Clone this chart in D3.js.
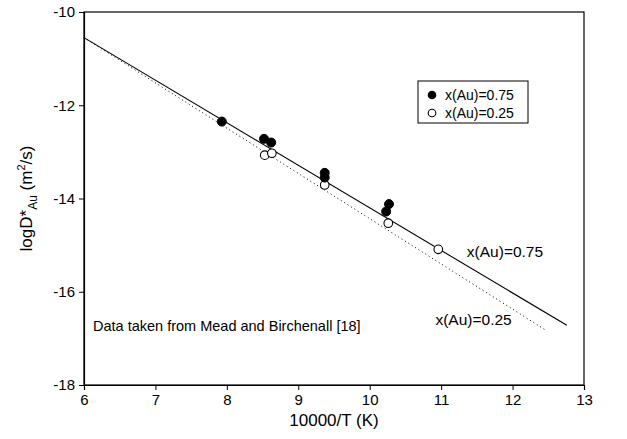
<!DOCTYPE html>
<html><head><meta charset="utf-8">
<script src="https://cdn.jsdelivr.net/npm/d3@7"></script>
<style>body{margin:0;background:#fff;} text{font-family:"Liberation Sans",Arial,sans-serif;fill:#000;}</style>
</head><body><svg id="c" width="627" height="439"></svg>
<script>
const xTicks = [6,7,8,9,10,11,12,13];
const yTicks = [-10,-12,-14,-16,-18];
const filledX = [7.93, 8.52, 8.62, 9.37, 9.37, 10.23, 10.27];
const filledY = [-12.35, -12.72, -12.80, -13.45, -13.55, -14.28, -14.12];
const openX = [8.53, 8.63, 9.37, 10.26, 10.96];
const openY = [-13.07, -13.03, -13.71, -14.53, -15.09];
const fitSolidX = [6, 12.76];
const fitSolidY = [-10.55, -16.72];
const fitDotX = [6, 12.46];
const fitDotY = [-10.55, -16.82];
const legendLabels = ["x(Au)=0.75", "x(Au)=0.25"];

const svg = d3.select("#c");
const L=84, R=584, T=12, B=385;
const x = d3.scaleLinear().domain([6,13]).range([L,R]);
const y = d3.scaleLinear().domain([-18,-10]).range([B,T]);

// frame
svg.append("rect").attr("x",L).attr("y",T).attr("width",R-L).attr("height",B-T)
  .attr("fill","none").attr("stroke","#000").attr("stroke-width",1.2);

const xa = svg.append("g").attr("transform",`translate(0,${B})`)
  .call(d3.axisBottom(x).tickValues(xTicks).tickSize(5).tickPadding(4).tickFormat(d3.format("d")));
const ya = svg.append("g").attr("transform",`translate(${L},0)`)
  .call(d3.axisLeft(y).tickValues(yTicks).tickSize(5).tickPadding(4).tickFormat(d=>"-"+Math.abs(d)));
[xa,ya].forEach(a=>{a.select(".domain").attr("stroke","#000").attr("stroke-width",1.2);
  a.selectAll("text").attr("font-size",15).attr("font-family","Liberation Sans, Arial, sans-serif").attr("fill","#000");
  a.selectAll("line").attr("stroke","#000");});

// fit lines
const line = d3.line().x(d=>x(d[0])).y(d=>y(d[1]));
svg.append("path").datum(fitSolidX.map((v,i)=>[v,fitSolidY[i]])).attr("d",line)
  .attr("stroke","#000").attr("stroke-width",1.1).attr("fill","none");
svg.append("path").datum(fitDotX.map((v,i)=>[v,fitDotY[i]])).attr("d",line)
  .attr("stroke","#000").attr("stroke-width",1).attr("stroke-dasharray","1,3").attr("fill","none");

// points
svg.append("g").selectAll("circle").data(openX.map((v,i)=>[v,openY[i]])).join("circle")
  .attr("cx",d=>x(d[0])).attr("cy",d=>y(d[1])).attr("r",4.3)
  .attr("fill","#fff").attr("stroke","#000").attr("stroke-width",1.1);
svg.append("g").selectAll("circle").data(filledX.map((v,i)=>[v,filledY[i]])).join("circle")
  .attr("cx",d=>x(d[0])).attr("cy",d=>y(d[1])).attr("r",4.5)
  .attr("fill","#000").attr("stroke","#000");

// annotations
svg.append("text").attr("x",x(11.36)).attr("y",y(-15.15)+5).attr("font-size",15.5).text(legendLabels[0]);
svg.append("text").attr("x",x(10.92)).attr("y",y(-16.6)+5).attr("font-size",15.5).text(legendLabels[1]);
svg.append("text").attr("x",93).attr("y",331).attr("font-size",14.5).text("Data taken from Mead and Birchenall [18]");

// legend
const lg = svg.append("g");
lg.append("rect").attr("x",418).attr("y",81).attr("width",110).attr("height",42)
  .attr("fill","#fff").attr("stroke","#000").attr("stroke-width",1);
lg.append("circle").attr("cx",432).attr("cy",95).attr("r",4.3).attr("fill","#000");
lg.append("circle").attr("cx",432).attr("cy",113).attr("r",3.8).attr("fill","#fff").attr("stroke","#000").attr("stroke-width",1.1);
lg.append("text").attr("x",445).attr("y",100).attr("font-size",14).text(legendLabels[0]);
lg.append("text").attr("x",445).attr("y",118).attr("font-size",14).text(legendLabels[1]);

// axis titles
svg.append("text").attr("x",(L+R)/2).attr("y",426).attr("text-anchor","middle").attr("font-size",17).text("10000/T (K)");
const yt = svg.append("text").attr("transform",`translate(32,${(T+B)/2}) rotate(-90)`)
  .attr("text-anchor","middle").attr("font-size",17);
yt.append("tspan").text("logD*");
yt.append("tspan").attr("font-size",12).attr("dy",5).text("Au");
yt.append("tspan").attr("dy",-5).text(" (m");
yt.append("tspan").attr("font-size",11).attr("dy",-7).text("2");
yt.append("tspan").attr("dy",7).text("/s)");
</script></body></html>
